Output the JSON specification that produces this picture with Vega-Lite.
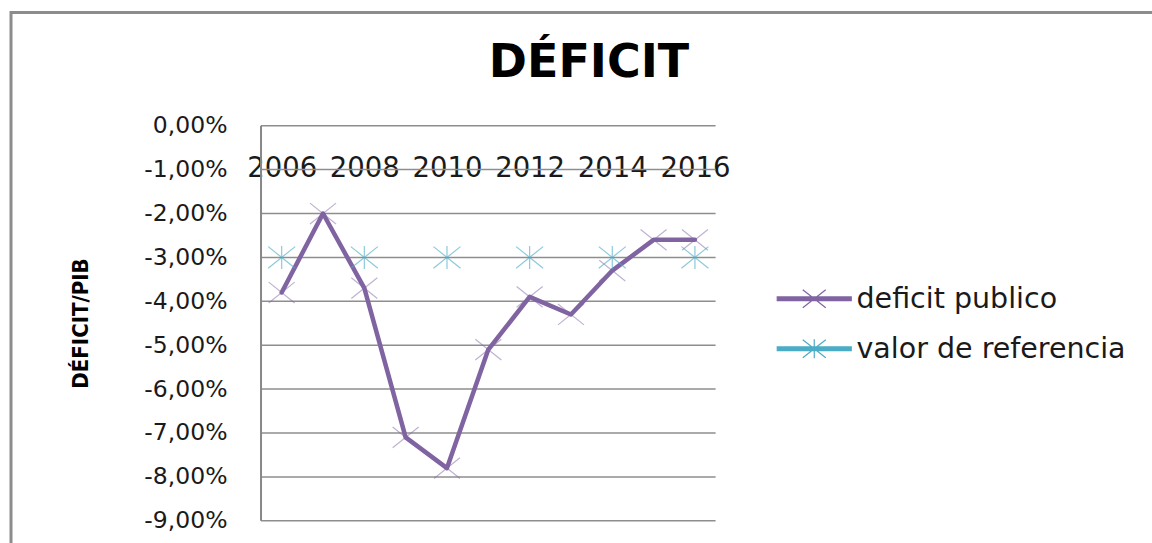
{
  "$schema": "https://vega.github.io/schema/vega-lite/v6.json",
  "width": 1160,
  "height": 560,
  "autosize": {"type": "none"},
  "padding": {"left": 11, "top": 12.5, "right": 0, "bottom": 0},
  "background": "white",
  "config": {
    "view": {"stroke": "#8c8c8c", "strokeWidth": 3},
    "font": "DejaVu Sans"
  },
  "title": {
    "text": "DÉFICIT",
    "font": "DejaVu Sans",
    "fontSize": 46,
    "fontWeight": "bold",
    "color": "#000000",
    "anchor": "middle",
    "frame": "group",
    "offset": -110.5,
    "baseline": "alphabetic",
    "dx": -2
  },
  "datasets": {
    "series": [
      {"year": 2006, "serie": "deficit publico", "valor": -3.8},
      {"year": 2007, "serie": "deficit publico", "valor": -2.0},
      {"year": 2008, "serie": "deficit publico", "valor": -3.7},
      {"year": 2009, "serie": "deficit publico", "valor": -7.1},
      {"year": 2010, "serie": "deficit publico", "valor": -7.8},
      {"year": 2011, "serie": "deficit publico", "valor": -5.1},
      {"year": 2012, "serie": "deficit publico", "valor": -3.9},
      {"year": 2013, "serie": "deficit publico", "valor": -4.3},
      {"year": 2014, "serie": "deficit publico", "valor": -3.3},
      {"year": 2015, "serie": "deficit publico", "valor": -2.6},
      {"year": 2016, "serie": "deficit publico", "valor": -2.6},
      {"year": 2006, "serie": "valor de referencia", "valor": -3.0},
      {"year": 2008, "serie": "valor de referencia", "valor": -3.0},
      {"year": 2010, "serie": "valor de referencia", "valor": -3.0},
      {"year": 2012, "serie": "valor de referencia", "valor": -3.0},
      {"year": 2014, "serie": "valor de referencia", "valor": -3.0},
      {"year": 2016, "serie": "valor de referencia", "valor": -3.0}
    ],
    "grid": [
      {"nivel": 0}, {"nivel": -1}, {"nivel": -2}, {"nivel": -3}, {"nivel": -4},
      {"nivel": -5}, {"nivel": -6}, {"nivel": -7}, {"nivel": -8}, {"nivel": -9}
    ]
  },
  "layer": [
    {
      "data": {"name": "grid"},
      "mark": {"type": "rule", "color": "#8e8e8e", "strokeWidth": 1.5},
      "encoding": {
        "y": {
          "field": "nivel",
          "type": "quantitative",
          "scale": {"domain": [-10.178, 2.579], "nice": false, "zero": false},
          "axis": {
            "orient": "left",
            "offset": -250,
            "values": [0, -1, -2, -3, -4, -5, -6, -7, -8, -9],
            "labelExpr": "replace(replace(format(datum.value, '.2f'), '.', ','), '−', '-') + '%'",
            "domain": false,
            "ticks": false,
            "tickSize": 0,
            "grid": false,
            "labelPadding": 34,
            "labelFont": "DejaVu Sans",
            "labelFontSize": 23.5,
            "labelColor": "#1a1a1a",
            "labelFlush": false,
            "labelOverlap": false,
            "title": "DÉFICIT/PIB",
            "titleFont": "DejaVu Sans Condensed, DejaVu Sans",
            "titleFontWeight": "bold",
            "titleFontSize": 22,
            "titleColor": "#000000",
            "titleAngle": 270,
            "titleX": -181,
            "titleY": 310.5,
            "titleAlign": "center",
            "titleBaseline": "middle"
          }
        },
        "x": {
          "datum": 2005.5,
          "type": "quantitative",
          "scale": {"domain": [1999.45, 2027.52], "nice": false, "zero": false},
          "axis": {
            "orient": "bottom",
            "offset": -446.8,
            "values": [2006, 2008, 2010, 2012, 2014, 2016],
            "format": "d",
            "domain": false,
            "ticks": false,
            "tickSize": 0,
            "grid": false,
            "labelPadding": 51,
            "labelBaseline": "alphabetic",
            "labelFont": "DejaVu Sans",
            "labelFontSize": 27.5,
            "labelColor": "#1a1a1a",
            "labelFlush": false,
            "labelOverlap": false,
            "title": null
          }
        },
        "x2": {"datum": 2016.5}
      }
    },
    {
      "data": {"name": "grid"},
      "mark": {"type": "rule", "color": "#888888", "strokeWidth": 2},
      "encoding": {
        "x": {"datum": 2005.5, "type": "quantitative"},
        "y": {"aggregate": "max", "field": "nivel", "type": "quantitative"},
        "y2": {"aggregate": "min", "field": "nivel"}
      }
    },
    {
      "data": {"name": "series"},
      "transform": [{"filter": "datum.serie === 'deficit publico'"}],
      "mark": {"type": "line", "color": "#8064A2", "strokeWidth": 4.5, "strokeJoin": "round", "strokeCap": "round"},
      "encoding": {
        "x": {"field": "year", "type": "quantitative"},
        "y": {"field": "valor", "type": "quantitative"}
      }
    },
    {
      "data": {"name": "series"},
      "transform": [{"filter": "datum.serie === 'deficit publico'"}],
      "mark": {
        "type": "point",
        "shape": "M-1,-0.8L1,0.8M-1,0.8L1,-0.8",
        "size": 676,
        "filled": false,
        "stroke": "#8064A2",
        "strokeOpacity": 0.7,
        "strokeWidth": 1.2
      },
      "encoding": {
        "x": {"field": "year", "type": "quantitative"},
        "y": {"field": "valor", "type": "quantitative"}
      }
    },
    {
      "data": {"name": "series"},
      "transform": [{"filter": "datum.serie === 'valor de referencia'"}],
      "mark": {
        "type": "point",
        "shape": "M-1,-0.8L1,0.8M-1,0.8L1,-0.8M0,-0.85L0,0.85",
        "size": 729,
        "filled": false,
        "stroke": "#4BACC6",
        "strokeOpacity": 0.9,
        "strokeWidth": 1.2
      },
      "encoding": {
        "x": {"field": "year", "type": "quantitative"},
        "y": {"field": "valor", "type": "quantitative"}
      }
    },
    {
      "data": {"name": "series"},
      "mark": {"type": "point", "opacity": 0, "size": 400, "strokeWidth": 1.2},
      "encoding": {
        "x": {"field": "year", "type": "quantitative"},
        "y": {"field": "valor", "type": "quantitative"},
        "shape": {
          "field": "serie",
          "type": "nominal",
          "scale": {
            "domain": ["deficit publico", "valor de referencia"],
            "range": [
              "M-3.7,-0.18L3.7,-0.18L3.7,0.18L-3.7,0.18ZM-1.15,-0.9L1.15,0.9M-1.15,0.9L1.15,-0.9",
              "M-3.7,-0.18L3.7,-0.18L3.7,0.18L-3.7,0.18ZM-1.15,-0.9L1.15,0.9M-1.15,0.9L1.15,-0.9M0,-0.95L0,0.95"
            ]
          },
          "legend": {
            "orient": "none",
            "legendX": 789,
            "legendY": 272,
            "title": null,
            "padding": 0,
            "symbolSize": 400,
            "symbolOpacity": 1,
            "symbolStrokeWidth": 1.2,
            "labelFont": "DejaVu Sans",
            "labelFontSize": 28.5,
            "labelColor": "#1a1a1a",
            "labelOffset": 28,
            "rowPadding": 21,
            "labelLimit": 400
          }
        },
        "fill": {
          "field": "serie",
          "type": "nominal",
          "scale": {"domain": ["deficit publico", "valor de referencia"], "range": ["#8064A2", "#4BACC6"]}
        },
        "stroke": {
          "field": "serie",
          "type": "nominal",
          "scale": {"domain": ["deficit publico", "valor de referencia"], "range": ["#8064A2", "#4BACC6"]}
        }
      }
    }
  ]
}
